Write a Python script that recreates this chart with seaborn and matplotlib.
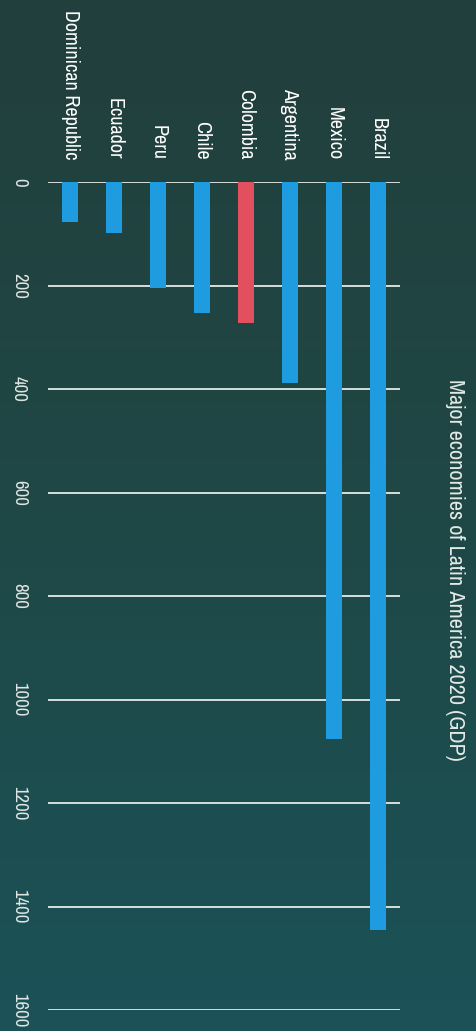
import numpy as np
import pandas as pd
import matplotlib
matplotlib.use("Agg")
import matplotlib.pyplot as plt
from matplotlib import font_manager
import seaborn as sns

# Data (GDP 2020, billions USD)
countries = ["Dominican Republic", "Ecuador", "Peru", "Chile",
             "Colombia", "Argentina", "Mexico", "Brazil"]
gdp = [78, 99, 204, 253, 272, 389, 1076, 1445]
highlight = "Colombia"
value_ticks = [0, 200, 400, 600, 800, 1000, 1200, 1400, 1600]

df = pd.DataFrame({"Country": countries, "GDP": gdp})

sns.set_theme(style="white")
names = sorted({f.name for f in font_manager.fontManager.ttflist})
narrow = [n for n in names if "Condensed" in n or "Narrow" in n]
plt.rcParams["font.family"] = narrow[:1] + ["DejaVu Sans"]
plt.rcParams["font.stretch"] = "condensed"

fig = plt.figure(figsize=(4.77, 10.31), dpi=100)

# gradient background
bg = fig.add_axes([0, 0, 1, 1], zorder=-10)
grad = np.linspace(0, 1, 256).reshape(-1, 1)
cmap = matplotlib.colors.LinearSegmentedColormap.from_list(
    "bg", ["#223f3c", "#1f4846", "#1b5258"])
bg.imshow(grad, aspect="auto", cmap=cmap, extent=[0, 1, 0, 1], origin="upper")
bg.axis("off")

ax = fig.add_axes([48 / 477, 1 - 1010 / 1031, 352 / 477, 828 / 1031])
ax.patch.set_alpha(0)

palette = {c: ("#e2505f" if c == highlight else "#1f9be0") for c in countries}
sns.barplot(data=df, x="Country", y="GDP", hue="Country", palette=palette,
            order=countries, width=0.35, legend=False, ax=ax,
            saturation=1, linewidth=0)
for p in ax.patches:
    p.set_zorder(3)

ax.set_ylim(1600, 0)
ax.set_xlim(-0.5, len(countries) - 0.5)
ax.set_yticks(value_ticks)
ax.set_yticklabels([str(v) for v in value_ticks], rotation=-90,
                   color="#dfe6e4", fontsize=13.5, va="center", ha="center",
                   fontweight="light")
ax.tick_params(axis="y", length=0, pad=21)
ax.yaxis.grid(True, color="#e4eae6", linewidth=1.3, zorder=0)
ax.set_axisbelow(True)

ax.xaxis.tick_top()
ax.set_xticks(range(len(countries)))
ax.set_xticklabels(countries, rotation=-90, color="white", fontsize=14.5,
                   ha="center", va="bottom")
ax.tick_params(axis="x", length=0, pad=16)
ax.set_xlabel("")
ax.set_ylabel("")
for s in ax.spines.values():
    s.set_visible(False)

fig.text(455 / 477, 1 - 570 / 1031, "Major economies of Latin America 2020 (GDP)",
         rotation=-90, color="#e4eae6", fontsize=16, ha="center", va="center",
         fontweight="light")

fig.savefig("out.png", dpi=100)
